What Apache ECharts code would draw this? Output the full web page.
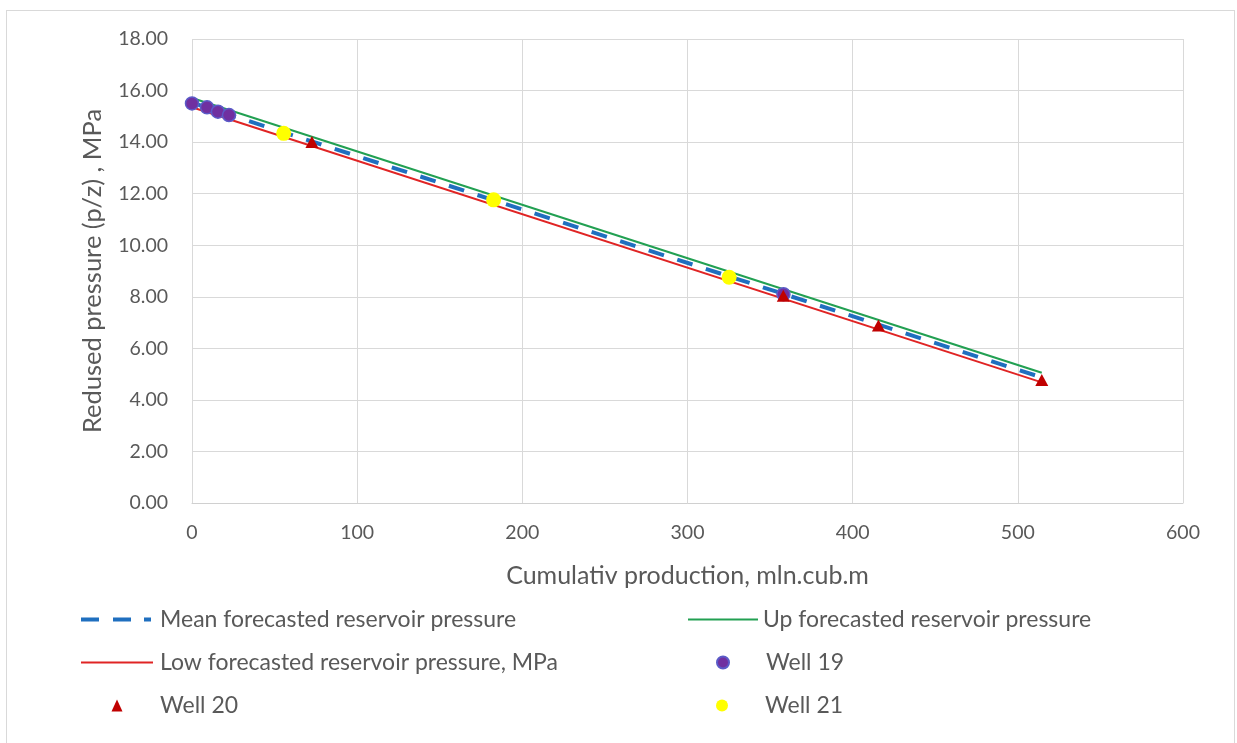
<!DOCTYPE html>
<html>
<head>
<meta charset="utf-8">
<script src="https://cdn.jsdelivr.net/npm/echarts@6/dist/echarts.min.js"></script>
<style>
  html, body { margin: 0; padding: 0; background: #fff; }
  #frame { position: absolute; left: 6px; top: 10px; width: 1229px; height: 760px; border: 1px solid #d9d9d9; box-sizing: border-box; }
  #chart { position: absolute; left: 0; top: 0; width: 1237px; height: 743px; }
</style>
</head>
<body>
<div id="frame"></div>
<div id="chart"></div>
<script>
// Forecast lines (p/z vs cumulative production)
const forecastX = [0, 514.5];
const meanY = [15.53, 4.87];
const upY = [15.71, 5.05];
const lowY = [15.35, 4.68];

// Measured well points
const well19X = [0, 9.1, 15.7, 22.4, 358.1];
const well19Y = [15.50, 15.35, 15.18, 15.05, 8.10];
const well20X = [72.6, 358.0, 415.6, 514.5];
const well20Y = [14.00, 8.04, 6.89, 4.77];
const well21X = [55.5, 182.6, 325.2];
const well21Y = [14.34, 11.76, 8.76];

// Axis ticks
const xTicks = { min: 0, max: 600, interval: 100 };
const yTicks = { min: 0, max: 18, interval: 2 };

const FONT = 'Lato';
const TEXT = '#595959';

const pairs = (xs, ys) => xs.map((x, i) => [x, ys[i]]);

const names = {
  mean: 'Mean forecasted reservoir pressure',
  up: 'Up forecasted reservoir pressure',
  low: 'Low forecasted reservoir pressure, MPa',
  w19: 'Well 19',
  w20: 'Well 20',
  w21: 'Well 21'
};

// Legend swatches for the line series
const DASH_ICON = 'path://M0,0h18v4h-18z M32,0h18v4h-18z M63,0h7v4h-7z';
const SOLID_ICON = 'path://M0,0h72v2h-72z';

const legendText = { fontFamily: FONT, fontSize: 23, color: TEXT };

function lineLegend(name, icon, w, h, left, textX, centerY) {
  return {
    data: [{ name: name, icon: icon }], left: left, top: centerY - 12, padding: 0,
    itemWidth: w, itemHeight: h, itemGap: 0, symbolKeepAspect: false,
    textStyle: Object.assign({ padding: [0, 0, 0, textX - (left + w + 5)] }, legendText)
  };
}

function markLegend(name, iconSize, iconCenterX, textX, centerY) {
  const left = iconCenterX - iconSize[0] / 2;
  return {
    data: [name], left: left, top: centerY - 12, padding: 0,
    itemWidth: iconSize[0], itemHeight: iconSize[1], itemGap: 0,
    textStyle: Object.assign({ padding: [0, 0, 0, textX - (left + iconSize[0] + 5)] }, legendText)
  };
}

const chart = echarts.init(document.getElementById('chart'), null, { renderer: 'canvas' });
chart.setOption({
  animation: false,
  backgroundColor: 'transparent',
  grid: { left: 192, right: 54, top: 39, bottom: 240, containLabel: false },
  xAxis: {
    type: 'value', min: xTicks.min, max: xTicks.max, interval: xTicks.interval,
    name: 'Cumulativ production, mln.cub.m', nameLocation: 'middle', nameGap: 60,
    nameTextStyle: { fontFamily: FONT, fontSize: 25, color: TEXT },
    axisLine: { show: true, lineStyle: { color: '#d0d0d0', width: 1 } },
    axisTick: { show: false },
    axisLabel: { fontFamily: FONT, fontSize: 19.5, color: TEXT, margin: 20 },
    splitLine: { show: true, lineStyle: { color: '#d9d9d9', width: 1 } }
  },
  yAxis: {
    type: 'value', min: yTicks.min, max: yTicks.max, interval: yTicks.interval,
    name: 'Redused pressure (p/z) , MPa', nameLocation: 'middle', nameGap: 86,
    nameTextStyle: { fontFamily: FONT, fontSize: 25.5, color: TEXT },
    axisLine: { show: false },
    axisTick: { show: false },
    axisLabel: { fontFamily: FONT, fontSize: 19.5, color: TEXT, margin: 24,
      formatter: v => v.toFixed(2) },
    splitLine: { show: true, lineStyle: { color: '#d9d9d9', width: 1 } }
  },
  legend: [
    lineLegend(names.mean, DASH_ICON, 70, 4, 81, 160, 620),
    lineLegend(names.up, SOLID_ICON, 70, 2, 688, 763, 620),
    lineLegend(names.low, SOLID_ICON, 72, 2, 81, 160, 663),
    markLegend(names.w19, [12, 12], 722, 765, 663),
    markLegend(names.w20, [11, 12], 117, 160, 706),
    markLegend(names.w21, [12, 12], 722, 765, 706)
  ],
  series: [
    {
      name: names.mean, type: 'line', data: pairs(forecastX, meanY),
      symbol: 'none', color: '#1f6fbf',
      lineStyle: { color: '#1f6fbf', width: 4, type: [16, 14] }, z: 2
    },
    {
      name: names.up, type: 'line', data: pairs(forecastX, upY),
      symbol: 'none', color: '#22a052',
      lineStyle: { color: '#22a052', width: 2 }, z: 2
    },
    {
      name: names.low, type: 'line', data: pairs(forecastX, lowY),
      symbol: 'none', color: '#e02424',
      lineStyle: { color: '#e02424', width: 2 }, z: 2
    },
    {
      name: names.w19, type: 'scatter', data: pairs(well19X, well19Y),
      symbol: 'circle', symbolSize: 13,
      itemStyle: { color: '#7030a0', borderColor: '#5b5bc8', borderWidth: 1.5, opacity: 1 }, z: 3
    },
    {
      name: names.w20, type: 'scatter', data: pairs(well20X, well20Y),
      symbol: 'triangle', symbolSize: [13, 12],
      itemStyle: { color: '#c00000', opacity: 1 }, z: 4
    },
    {
      name: names.w21, type: 'scatter', data: pairs(well21X, well21Y),
      symbol: 'circle', symbolSize: 15,
      itemStyle: { color: '#ffff00', opacity: 1 }, z: 3
    }
  ]
});
</script>
</body>
</html>
